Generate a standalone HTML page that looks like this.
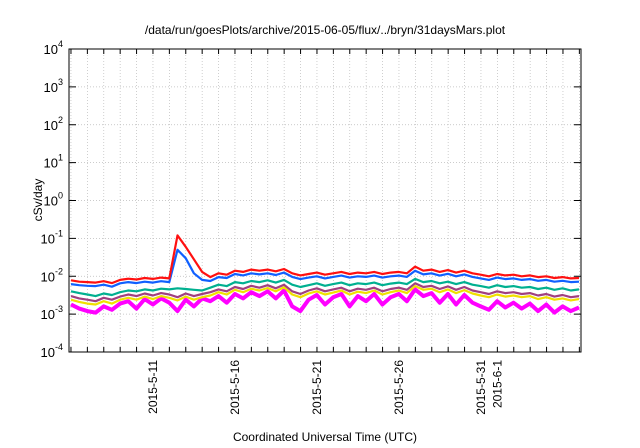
<!DOCTYPE html>
<html><head><meta charset="utf-8"><style>
html,body{margin:0;padding:0;background:#fff;}
svg{display:block;font-family:"Liberation Sans",sans-serif;}
</style></head><body>
<svg id="chart" width="640" height="448" viewBox="0 0 640 448" xmlns="http://www.w3.org/2000/svg">
<rect width="640" height="448" fill="#fff"/>
<text x="325" y="34" font-size="12" text-anchor="middle">/data/run/goesPlots/archive/2015-06-05/flux/../bryn/31daysMars.plot</text>
<text transform="translate(42,200) rotate(-90)" font-size="12" text-anchor="middle">cSv/day</text>
<text x="325" y="441" font-size="12" text-anchor="middle">Coordinated Universal Time (UTC)</text>
<g id="grid"></g><g id="series"></g><g id="axes"></g>
</svg>
<script>
const T0 = -5.12, T1 = 26.1; // days relative to 2015-5-11
const tickDays = [0,5,10,15,20,21];
const tickLabels = ["2015-5-11","2015-5-16","2015-5-21","2015-5-26","2015-5-31","2015-6-1"];
const yDecades = [-4,-3,-2,-1,0,1,2,3,4];
const red = [0.0078,0.0072,0.0070,0.0068,0.0074,0.0066,0.0080,0.0086,0.0082,0.0090,0.0085,0.0092,0.0088,0.120,0.060,0.028,0.013,0.0095,0.0120,0.0110,0.0140,0.0130,0.0150,0.0140,0.0150,0.0135,0.0155,0.0120,0.0105,0.0115,0.0125,0.0110,0.0120,0.0130,0.0115,0.0125,0.0120,0.0130,0.0115,0.0125,0.0130,0.0120,0.0180,0.0140,0.0150,0.0130,0.0145,0.0125,0.0140,0.0120,0.0110,0.0100,0.0115,0.0105,0.0110,0.0100,0.0105,0.0095,0.0100,0.0090,0.0095,0.0088,0.0090];
const blue = [0.0062,0.0058,0.0056,0.0055,0.0060,0.0053,0.0065,0.0070,0.0066,0.0072,0.0068,0.0074,0.0070,0.050,0.030,0.012,0.0080,0.0075,0.0095,0.0090,0.0115,0.0105,0.0120,0.0112,0.0120,0.0108,0.0125,0.0096,0.0084,0.0092,0.0100,0.0088,0.0096,0.0104,0.0092,0.0100,0.0096,0.0104,0.0092,0.0100,0.0104,0.0096,0.0140,0.0112,0.0120,0.0104,0.0116,0.0100,0.0112,0.0096,0.0088,0.0080,0.0092,0.0084,0.0088,0.0080,0.0084,0.0076,0.0080,0.0072,0.0076,0.0070,0.0072];
const teal = [0.0040,0.0036,0.0033,0.0030,0.0035,0.0032,0.0038,0.0042,0.0040,0.0045,0.0042,0.0047,0.0045,0.0048,0.0046,0.0044,0.0042,0.0050,0.0060,0.0055,0.0070,0.0065,0.0075,0.0070,0.0078,0.0068,0.0080,0.0060,0.0052,0.0058,0.0065,0.0056,0.0062,0.0068,0.0058,0.0065,0.0062,0.0068,0.0058,0.0064,0.0068,0.0062,0.0085,0.0070,0.0075,0.0065,0.0072,0.0062,0.0070,0.0060,0.0055,0.0050,0.0058,0.0052,0.0055,0.0050,0.0052,0.0046,0.0050,0.0044,0.0048,0.0042,0.0045];
const purple = [0.0030,0.0026,0.0024,0.0022,0.0027,0.0024,0.0029,0.0033,0.0030,0.0035,0.0031,0.0036,0.0033,0.0028,0.0035,0.0030,0.0034,0.0038,0.0045,0.0040,0.0052,0.0046,0.0056,0.0050,0.0058,0.0048,0.0060,0.0040,0.0034,0.0042,0.0048,0.0040,0.0045,0.0050,0.0040,0.0047,0.0044,0.0050,0.0040,0.0046,0.0050,0.0044,0.0065,0.0052,0.0056,0.0046,0.0054,0.0044,0.0052,0.0042,0.0038,0.0034,0.0040,0.0036,0.0038,0.0034,0.0036,0.0031,0.0034,0.0029,0.0032,0.0028,0.0030];
const yellow = [0.0024,0.0021,0.0019,0.0018,0.0022,0.0019,0.0024,0.0027,0.0024,0.0029,0.0025,0.0030,0.0027,0.0023,0.0029,0.0024,0.0028,0.0031,0.0038,0.0033,0.0044,0.0038,0.0047,0.0042,0.0049,0.0040,0.0051,0.0033,0.0028,0.0035,0.0040,0.0033,0.0037,0.0042,0.0033,0.0039,0.0036,0.0042,0.0033,0.0038,0.0042,0.0036,0.0055,0.0044,0.0047,0.0038,0.0045,0.0036,0.0043,0.0035,0.0031,0.0028,0.0033,0.0029,0.0031,0.0028,0.0030,0.0025,0.0028,0.0024,0.0026,0.0023,0.0025];
const magenta = [0.0018,0.0014,0.0012,0.0011,0.0016,0.0013,0.0019,0.0022,0.0014,0.0025,0.0018,0.0026,0.0020,0.0012,0.0024,0.0016,0.0026,0.0022,0.0030,0.0020,0.0034,0.0026,0.0038,0.0030,0.0040,0.0026,0.0042,0.0016,0.0012,0.0024,0.0032,0.0018,0.0028,0.0034,0.0016,0.0030,0.0022,0.0034,0.0018,0.0028,0.0034,0.0022,0.0045,0.0030,0.0036,0.0020,0.0034,0.0018,0.0032,0.0020,0.0016,0.0013,0.0022,0.0015,0.0020,0.0014,0.0019,0.0012,0.0018,0.0011,0.0016,0.0012,0.0015];
const seriesColors = ["#ff00ff","#f0e000","#a04080","#00b090","#1060ff","#ff1010"];

const L=69,R=581,TOP=49,BOT=352;
const xs = t => L + (t - T0) / (T1 - T0) * (R - L);
const ys = v => BOT - (Math.log10(v) + 4) / 8 * (BOT - TOP);
const NS="http://www.w3.org/2000/svg";
function mk(tag, attrs, parent){const e=document.createElementNS(NS,tag);for(const k in attrs)e.setAttribute(k,attrs[k]);parent.appendChild(e);return e;}
const grid=document.getElementById('grid'), axes=document.getElementById('axes'), ser=document.getElementById('series');

for(let d=Math.ceil(T0); d<=T1; d++){
  const x=xs(d);
  const g=mk('line',{x1:x,x2:x,y1:TOP,y2:BOT,stroke:'#bbb','stroke-width':0.7,'stroke-dasharray':'1,2'},grid);
  
  
  const t1=mk('line',{x1:x,x2:x,y1:BOT,y2:BOT-5,stroke:'#000','stroke-width':1},axes);
  
  
  const t2=mk('line',{x1:x,x2:x,y1:TOP,y2:TOP+5,stroke:'#000','stroke-width':1},axes);
  
  
}
yDecades.forEach(p=>{
  const y=ys(Math.pow(10,p));
  if(p>-4&&p<4){const g=mk('line',{x1:L,x2:R,y1:y,y2:y,stroke:'#bbb','stroke-width':0.7,'stroke-dasharray':'1,2'},grid);
  
  }
  const a=mk('line',{x1:L,x2:L+7,y1:y,y2:y,stroke:'#000'},axes);
  
  
  const b=mk('line',{x1:R,x2:R-7,y1:y,y2:y,stroke:'#000'},axes);
  
  
  const tx=mk('text',{x:L-6,y:y+5,'font-size':13,'text-anchor':'end'},axes);
  
  
  const s1=mk('tspan',{},tx); s1.textContent='10';
  const s2=mk('tspan',{dy:-7,'font-size':9},tx); s2.textContent=String(p);
});
tickDays.forEach((d,i)=>{
  const x=xs(d);
  const tx=mk('text',{transform:`translate(${x+4},${BOT+8}) rotate(-90)`,'font-size':12,'text-anchor':'end'},axes);
  
  
  tx.textContent=tickLabels[i];
});
const fr=mk('rect',{x:L,y:TOP,width:R-L,height:BOT-TOP,fill:'none',stroke:'#000','stroke-width':1},axes);



const allSeries=[magenta,yellow,purple,teal,blue,red];
const names=['series-magenta','series-yellow','series-purple','series-teal','series-blue','series-red'];
allSeries.forEach((arr,si)=>{
  const n=arr.length;
  const pts=arr.map((v,i)=>{const t=T0+0.12+i*(T1-T0-0.24)/(n-1);return xs(t).toFixed(1)+','+ys(v).toFixed(1);}).join(' ');
  const pl=mk('polyline',{points:pts,fill:'none',stroke:seriesColors[si],'stroke-width':si===0?4:2.2,'stroke-linejoin':'round'},ser);
  
  
});
</script>
</body></html>
